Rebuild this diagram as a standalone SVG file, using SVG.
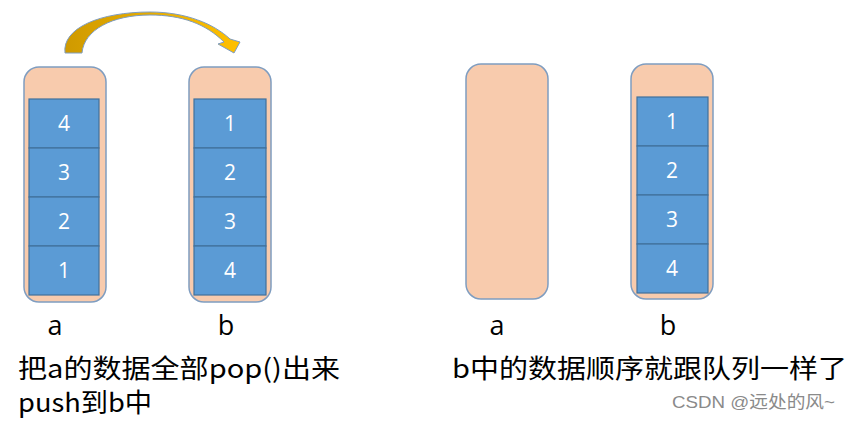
<svg xmlns="http://www.w3.org/2000/svg" width="859" height="421" viewBox="0 0 859 421">
<defs>
<linearGradient id="arrowGrad" x1="0" y1="0" x2="1" y2="0">
<stop offset="0" stop-color="#cf9a00"/>
<stop offset="0.5" stop-color="#e8ad00"/>
<stop offset="1" stop-color="#ffc000"/>
</linearGradient>
<style>
.stack{fill:#f8cbad;stroke:#7f9dc0;stroke-width:1.5}
.cell{fill:#5b9bd5;stroke:#41719c;stroke-width:1.2}
.num{fill:#ffffff;font-family:"Open Sans","Noto Sans",sans-serif;font-size:21px;text-anchor:middle}
.lbl{fill:#000000;font-family:"Open Sans","Noto Sans",sans-serif;font-size:27px;text-anchor:middle}
.cap{fill:#000000;font-family:"Noto Sans CJK SC",sans-serif;font-size:26px}
.wm{fill:#8a8a8a;font-family:"Liberation Sans","Noto Sans CJK SC",sans-serif;font-size:17px}
</style>
</defs>
<rect width="859" height="421" fill="#ffffff"/>

<g id="connectors">
<path d="M65,53 C62,28 100,12 150,12 C186,12 214,24 230,39 L240,42 L234,53 L218,44 L224,42 C206,24 182,15 150,15 C112,15 84,30 82,53 Z" fill="url(#arrowGrad)" stroke="#7f9dc0" stroke-width="1"/>
</g>

<g id="stack-a-before">
<rect class="stack" x="24" y="67" width="82" height="235" rx="15"/>
<rect class="cell" x="29" y="99" width="70" height="49"/>
<rect class="cell" x="29" y="148" width="70" height="49"/>
<rect class="cell" x="29" y="197" width="70" height="49"/>
<rect class="cell" x="29" y="246" width="70" height="49"/>
<text class="num" x="64" y="131">4</text>
<text class="num" x="64" y="180">3</text>
<text class="num" x="64" y="229">2</text>
<text class="num" x="64" y="278">1</text>
<text class="lbl" x="55" y="335">a</text>
</g>

<g id="stack-b-before">
<rect class="stack" x="189" y="67" width="82" height="235" rx="15"/>
<rect class="cell" x="194" y="99" width="72" height="49"/>
<rect class="cell" x="194" y="148" width="72" height="49"/>
<rect class="cell" x="194" y="197" width="72" height="49"/>
<rect class="cell" x="194" y="246" width="72" height="49"/>
<text class="num" x="230" y="131">1</text>
<text class="num" x="230" y="180">2</text>
<text class="num" x="230" y="229">3</text>
<text class="num" x="230" y="278">4</text>
<text class="lbl" x="226" y="335">b</text>
</g>

<g id="stack-a-after">
<rect class="stack" x="466" y="64" width="82" height="235" rx="15"/>
<text class="lbl" x="497" y="335">a</text>
</g>

<g id="stack-b-after">
<rect class="stack" x="631" y="64" width="82" height="235" rx="15"/>
<rect class="cell" x="637" y="97" width="71" height="49"/>
<rect class="cell" x="637" y="146" width="71" height="49"/>
<rect class="cell" x="637" y="195" width="71" height="49"/>
<rect class="cell" x="637" y="244" width="71" height="49"/>
<text class="num" x="672" y="129">1</text>
<text class="num" x="672" y="178">2</text>
<text class="num" x="672" y="227">3</text>
<text class="num" x="672" y="276">4</text>
<text class="lbl" x="668" y="335">b</text>
</g>

<g id="captions">
<text class="cap" x="18" y="378" textLength="322" lengthAdjust="spacingAndGlyphs">把a的数据全部pop()出来</text>
<text class="cap" x="18" y="412" textLength="134" lengthAdjust="spacingAndGlyphs">push到b中</text>
<text class="cap" x="452" y="378" textLength="395" lengthAdjust="spacingAndGlyphs">b中的数据顺序就跟队列一样了</text>
<text class="wm" x="672" y="408" textLength="163" lengthAdjust="spacingAndGlyphs">CSDN @远处的风~</text>
</g>
</svg>
